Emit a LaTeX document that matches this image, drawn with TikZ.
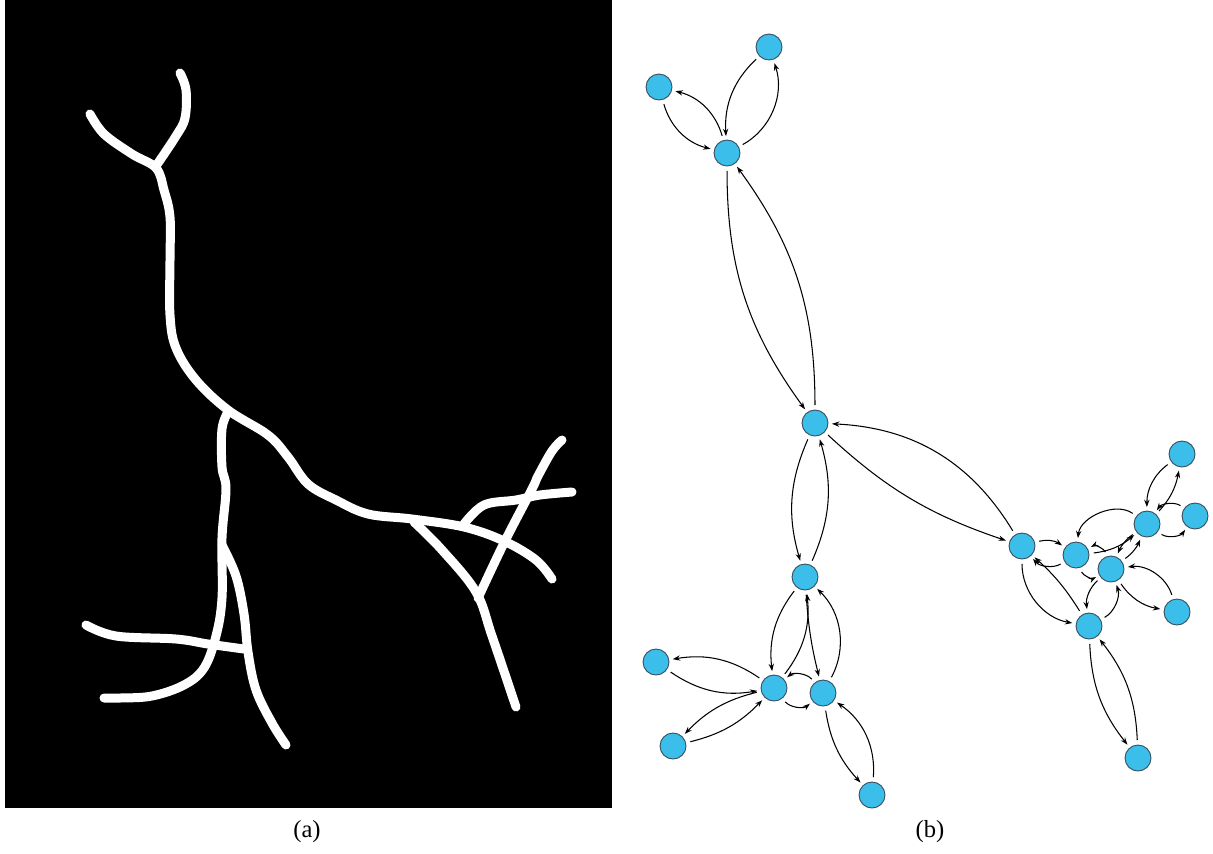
\documentclass[tikz,border=0pt]{standalone}
\usepackage{fontspec}
\setmainfont{Liberation Serif}
\usetikzlibrary{arrows.meta}
\definecolor{nodeblue}{RGB}{59,190,233}
\definecolor{nodeedge}{RGB}{55,75,90}

\tikzset{
	vtx/.style={circle, fill=nodeblue, draw=nodeedge, line width=0.5pt, minimum size=0.52cm, inner sep=0pt},
	link/.style={-{Stealth[length=4.2pt,width=3pt]}, line width=0.6pt, shorten >=2pt, shorten <=2.5pt},
	twig/.style={white, line width=0.18cm, line cap=round, line join=round},
	caption/.style={font=\fontsize{14}{16}\selectfont}
}

\begin{document}
\begin{tikzpicture}[x=0.02cm, y=-0.02cm]
		\useasboundingbox (0,0) rectangle (1213,853);

		\begin{scope}
			% skeleton image
			\fill[black] (5,0) rectangle (612,808);
			\draw[twig] plot[smooth, tension=0.6] coordinates {(180,73) (186,90) (185,118) (176,136) (156,166)};
			\draw[twig] plot[smooth, tension=0.6] coordinates {(90,114) (104,134) (132,154) (156,168) (164,190) (170,217) (170,260) (170,315) (176,348) (196,380) (228,410) (268,435) (288,457) (308,484) (336,500) (368,514) (412,519) (464,527) (504,541) (536,560) (552,579)};
			\draw[twig] plot[smooth, tension=0.6] coordinates {(228,412) (222,429) (222,467) (226,489) (222,538) (222,598) (216,636) (204,668) (184,685) (152,696) (120,698) (104,698)};
			\draw[twig] plot[smooth, tension=0.6] coordinates {(222,545) (236,576) (244,614) (248,652) (256,690) (272,723) (286,745)};
			\draw[twig] plot[smooth, tension=0.6] coordinates {(86,625) (116,636) (176,639) (208,644) (244,649)};
			\draw[twig] plot[smooth, tension=0.6] coordinates {(414,522) (442,550) (476,592) (492,636) (516,707)};
			\draw[twig] plot[smooth, tension=0.6] coordinates {(478,598) (504,543) (532,489) (538,476) (552,451) (562,440)};
			\draw[twig] plot[smooth, tension=0.6] coordinates {(464,524) (484,505) (516,500) (540,495) (572,492)};
			\node[caption] (capa) at (307,832) {(a)};
		\end{scope}

		\begin{scope}
			% graph
			\node[vtx] (v1) at (769,47) {};
			\node[vtx] (v2) at (659,87) {};
			\node[vtx] (v3) at (727,153) {};
			\node[vtx] (v4) at (815,423) {};
			\node[vtx] (v5) at (805,577) {};
			\node[vtx] (v6) at (656,662) {};
			\node[vtx] (v7) at (774,688) {};
			\node[vtx] (v8) at (823,693) {};
			\node[vtx] (v9) at (673,746) {};
			\node[vtx] (v10) at (872,795) {};
			\node[vtx] (v11) at (1022,546) {};
			\node[vtx] (v12) at (1076,555) {};
			\node[vtx] (v13) at (1111,569) {};
			\node[vtx] (v14) at (1147,524) {};
			\node[vtx] (v15) at (1182,454) {};
			\node[vtx] (v16) at (1195,516) {};
			\node[vtx] (v17) at (1177,612) {};
			\node[vtx] (v18) at (1089,626) {};
			\node[vtx] (v19) at (1138,758) {};

			\draw[link] (v2) to[bend right=30] (v3); % 2 -> 3
			\draw[link] (v3) to[bend right=30] (v2); % 3 -> 2
			\draw[link] (v1) to[bend right=25] (v3); % 1 -> 3
			\draw[link] (v3) to[bend right=40] (v1); % 3 -> 1
			\draw[link] (v3) to[bend right=18] (v4); % 3 -> 4
			\draw[link] (v4) to[bend right=18] (v3); % 4 -> 3
			\draw[link] (v4) to[bend right=20] (v5); % 4 -> 5
			\draw[link] (v5) to[bend right=20] (v4); % 5 -> 4
			\draw[link] (v4) to[bend right=12] (v11); % 4 -> 11
			\draw[link] (v11) to[bend right=28] (v4); % 11 -> 4

			\draw[link] (v5) to[bend right=22] (v7); % 5 -> 7
			\draw[link] (v7) to[bend right=22] (v5); % 7 -> 5
			\draw[link] (v5) to[bend right=5] (v8); % 5 -> 8
			\draw[link] (v8) to[bend right=37] (v5); % 8 -> 5
			\draw[link] (v7) to[bend right=45] (v8); % 7 -> 8
			\draw[link] (v8) to[bend right=45] (v7); % 8 -> 7
			\draw[link] (v6) to[bend right=22] (v7); % 6 -> 7
			\draw[link] (v7) to[bend right=22] (v6); % 7 -> 6
			\draw[link] (v7) to[bend right=16] (v9); % 7 -> 9
			\draw[link] (v9) to[bend right=16] (v7); % 9 -> 7
			\draw[link] (v8) to[bend right=17] (v10); % 8 -> 10
			\draw[link] (v10) to[bend right=30] (v8); % 10 -> 8

			\draw[link] (v11) to[bend left=25] (v12); % 11 -> 12
			\draw[link] (v12) to[bend left=40] (v11); % 12 -> 11
			\draw[link] (v11) to[bend right=40] (v18); % 11 -> 18
			\draw[link] (v18) to[bend right=8] (v11); % 18 -> 11
			\draw[link] (v12) to[bend right=17] (v14); % 12 -> 14
			\draw[link] (v14) to[bend right=60] (v12); % 14 -> 12
			\draw[link] (v12) to[bend right=50] (v13); % 12 -> 13
			\draw[link] (v13) to[bend right=50] (v12); % 13 -> 12
			\draw[link] (v13) to[bend right=15] (v14); % 13 -> 14
			\draw[link] (v14) to[bend right=15] (v13); % 14 -> 13
			\draw[link] (v14) to[bend right=16] (v15); % 14 -> 15
			\draw[link] (v15) to[bend right=27] (v14); % 15 -> 14
			\draw[link] (v14) to[bend right=45] (v16); % 14 -> 16
			\draw[link] (v16) to[bend right=45] (v14); % 16 -> 14
			\draw[link] (v13) to[bend right=23] (v17); % 13 -> 17
			\draw[link] (v17) to[bend right=40] (v13); % 17 -> 13
			\draw[link] (v13) to[bend right=28] (v18); % 13 -> 18
			\draw[link] (v18) to[bend right=40] (v13); % 18 -> 13
			\draw[link] (v18) to[bend right=18] (v19); % 18 -> 19
			\draw[link] (v19) to[bend right=18] (v18); % 19 -> 18

			\node[caption] (capb) at (930,832) {(b)};
		\end{scope}
	\end{tikzpicture}
\end{document}
